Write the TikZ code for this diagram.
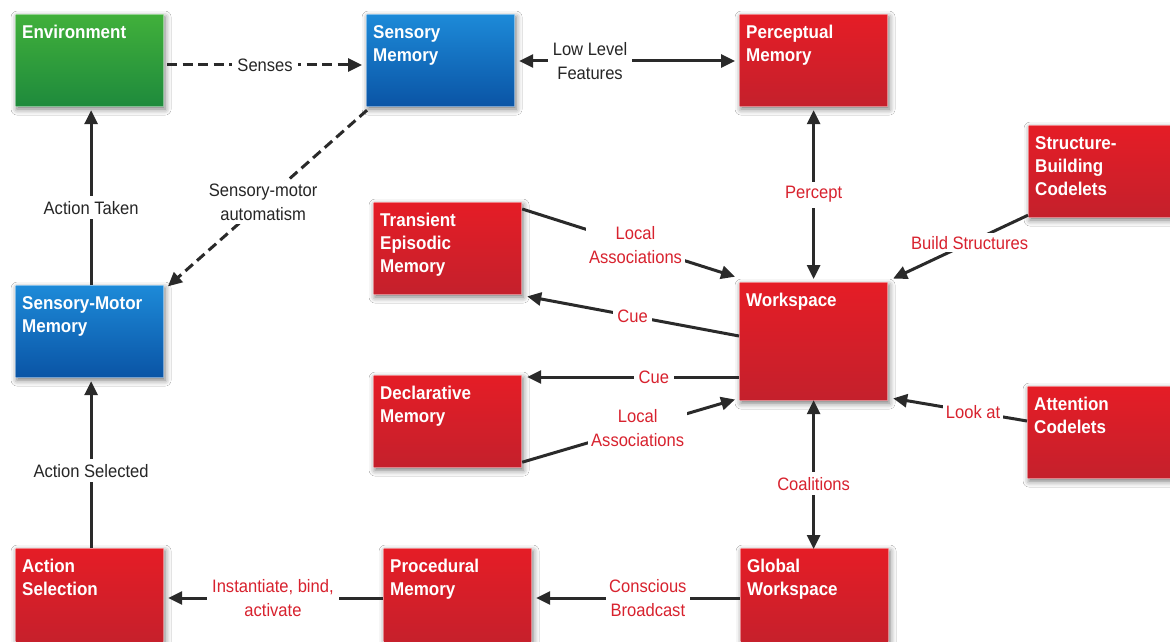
\documentclass[tikz,border=0pt]{standalone}
\usepackage{fontspec}
\setmainfont{Liberation Sans}
\newfontfamily\condfont{Liberation Sans}[FakeStretch=0.92]
\usetikzlibrary{shadows.blur, arrows.meta}

\definecolor{redtop}{HTML}{E51D26}
\definecolor{redbot}{HTML}{C4202C}
\definecolor{greentop}{HTML}{41B03B}
\definecolor{greenbot}{HTML}{1E8A3C}
\definecolor{bluetop}{HTML}{1D8AD8}
\definecolor{bluebot}{HTML}{0A54A5}
\definecolor{linegray}{HTML}{2A2A2A}
\definecolor{labelred}{HTML}{D8222E}
\definecolor{labeldark}{HTML}{262626}

\tikzset{
  box/.style={rectangle, draw=white, draw opacity=0.45, line width=1.2pt,
    inner sep=0pt, minimum width=148pt, minimum height=92pt, anchor=north west,
    blur shadow={shadow xshift=1.5pt, shadow yshift=-2.5pt,
      shadow blur radius=6pt, shadow opacity=55}},
  redbox/.style={box, top color=redtop, bottom color=redbot},
  greenbox/.style={box, top color=greentop, bottom color=greenbot},
  bluebox/.style={box, top color=bluetop, bottom color=bluebot},
  boxtext/.style={anchor=north west, xshift=7pt, yshift=-11pt, inner sep=0pt,
    align=left, text=white,
    font=\condfont\bfseries\fontsize{18.5}{23}\selectfont},
  tip/.tip={Triangle[length=14pt,width=13pt]},
  conn/.style={draw=linegray, line width=3pt, -tip, shorten >=1pt},
  biconn/.style={conn, tip-tip, shorten <=1pt},
  dashconn/.style={conn, dash pattern=on 10pt off 5.5pt},
  lbl/.style={fill=white, inner sep=5pt, align=center, text=labeldark,
    font=\condfont\fontsize{18}{24}\selectfont},
  rlbl/.style={lbl, text=labelred},
}

\begin{document}
\begin{tikzpicture}[x=1pt, y=-1pt]
  \clip (0,0) rectangle (1170,642);
  \fill[white] (0,0) rectangle (1170,642);

  % memory modules and codelets
  \node[greenbox, label={[boxtext]north west:Environment}] (env) at (15,14) {};
  \node[bluebox, label={[boxtext]north west:Sensory\\Memory}] (sens) at (366,14) {};
  \node[redbox, label={[boxtext]north west:Perceptual\\Memory}] (perc) at (739,14) {};
  \node[redbox, label={[boxtext]north west:Structure-\\Building\\Codelets}] (sbc) at (1028,125) {};
  \node[redbox, label={[boxtext]north west:Transient\\Episodic\\Memory}] (tem) at (373,202) {};
  \node[redbox, minimum height=118pt, label={[boxtext]north west:Workspace}] (ws) at (739,282) {};
  \node[redbox, label={[boxtext]north west:Declarative\\Memory}] (dm) at (373,375) {};
  \node[redbox, label={[boxtext]north west:Attention\\Codelets}] (ac) at (1027,386) {};
  \node[bluebox, label={[boxtext]north west:Sensory-Motor\\Memory}] (smm) at (15,285) {};
  \node[redbox, minimum height=100pt, label={[boxtext]north west:Action\\Selection}] (as) at (15,548) {};
  \node[redbox, minimum height=100pt, label={[boxtext]north west:Procedural\\Memory}] (pm) at (383,548) {};
  \node[redbox, minimum height=100pt, label={[boxtext]north west:Global\\Workspace}] (gw) at (740,548) {};

  % sensing and acting
  \draw[dashconn] ([xshift=3pt,yshift=-51pt]env.north east) -- ([xshift=-3pt,yshift=-51pt]sens.north west)
    node[lbl, pos=0.5] {Senses};
  \draw[biconn] ([xshift=3pt,yshift=-47pt]sens.north east) -- ([xshift=-3pt,yshift=-47pt]perc.north west)
    node[lbl, pos=0.33] {Low Level\\Features};
  \draw[dashconn] ([xshift=1pt,yshift=-3pt]sens.south west) -- ([xshift=3pt,yshift=-2pt]smm.north east)
    node[lbl, pos=0.52, inner sep=3pt] {Sensory-motor\\automatism};
  \draw[conn] ([xshift=1.5pt]smm.north) -- ([xshift=1.5pt,yshift=-2pt]env.south)
    node[lbl, pos=0.44] {Action Taken};
  \draw[conn] ([xshift=1.5pt]as.north) -- ([xshift=1.5pt,yshift=-2pt]smm.south)
    node[lbl, pos=0.46] {Action Selected};

  % workspace traffic
  \draw[biconn] ([yshift=-2pt]perc.south) -- ([yshift=2pt]ws.north)
    node[rlbl, pos=0.5] {Percept};
  \draw[conn] ([yshift=3pt]sbc.south west) -- ([xshift=4pt,yshift=3pt]ws.north east)
    node[rlbl, pos=0.43, inner sep=3pt] {Build Structures};
  \draw[conn] ([yshift=-7pt]tem.north east) -- ([xshift=-3pt,yshift=5pt]ws.north west)
    node[rlbl, pos=0.53, inner sep=3pt] {Local\\Associations};
  \draw[conn] ([yshift=-54pt]ws.north west) -- ([xshift=4pt,yshift=-1pt]tem.south east)
    node[rlbl, pos=0.5, inner sep=4pt] {Cue};
  \draw[conn] ([yshift=-95pt]ws.north west) -- ([xshift=4pt,yshift=-2pt]dm.north east)
    node[rlbl, pos=0.4] {Cue};
  \draw[conn] ([yshift=6pt]dm.south east) -- ([xshift=-3pt,yshift=2pt]ws.south west)
    node[rlbl, pos=0.54, inner sep=3pt] {Local\\Associations};
  \draw[conn] ([yshift=-35pt]ac.north west) -- ([xshift=4pt,yshift=3pt]ws.south east)
    node[rlbl, pos=0.4, inner sep=3pt] {Look at};
  \draw[biconn] ([yshift=2pt]ws.south) -- ([yshift=-2pt]ws.south |- gw.north)
    node[rlbl, pos=0.56] {Coalitions};

  % broadcast and action
  \draw[conn] ([yshift=-50pt]gw.north west) -- ([xshift=3pt,yshift=-50pt]pm.north east)
    node[rlbl, pos=0.45, inner sep=3pt] {Conscious\\Broadcast};
  \draw[conn] ([yshift=-50pt]pm.north west) -- ([xshift=3pt,yshift=-50pt]as.north east)
    node[rlbl, pos=0.51] {Instantiate, bind,\\activate};
\end{tikzpicture}
\end{document}
